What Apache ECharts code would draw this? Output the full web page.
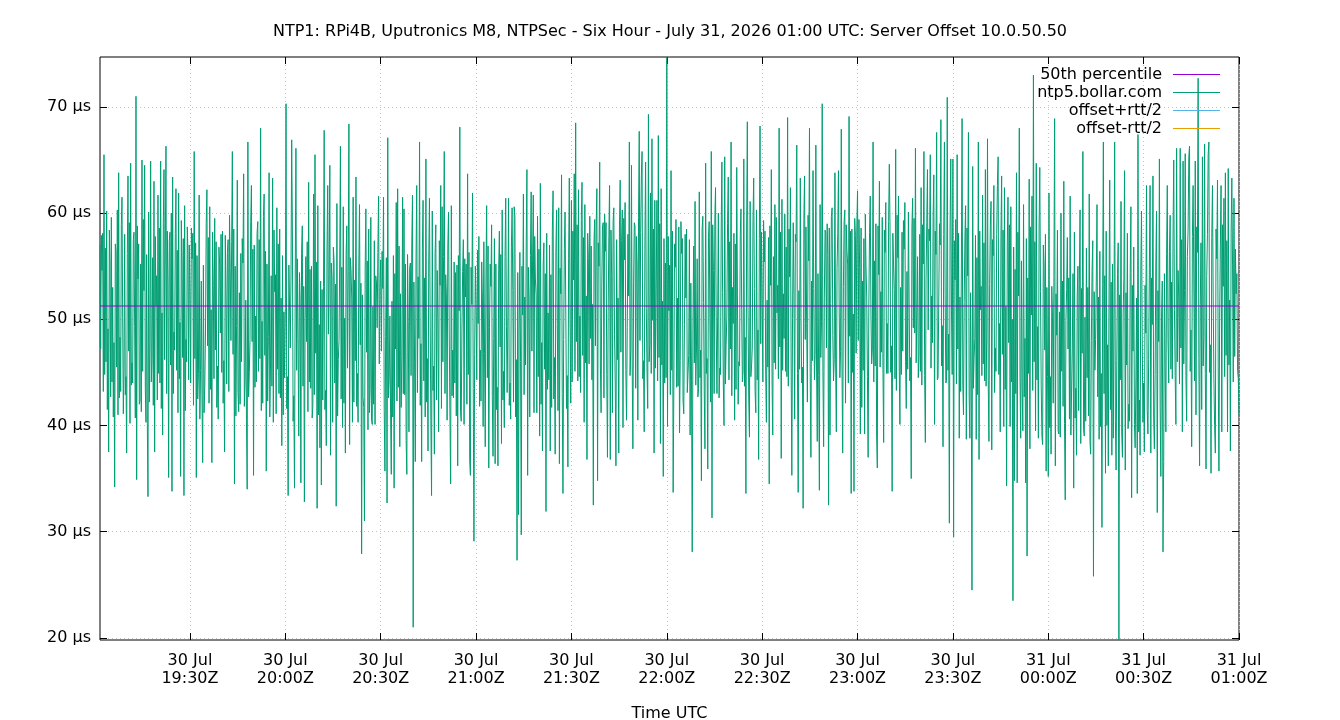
<!DOCTYPE html>
<html>
<head>
<meta charset="utf-8">
<title>NTP1 Server Offset</title>
<script src="https://cdn.jsdelivr.net/npm/echarts@6/dist/echarts.min.js"></script>
<style>
  html, body { margin: 0; padding: 0; background: #fff; }
  #chart { width: 1340px; height: 720px; }
</style>
</head>
<body>
<div id="chart"></div>
<script>
// ---- axis setup (x in minutes after 30 Jul 19:00Z) ----
const firstSampleMin = 1.7          // log starts a little after 19:00
const lastSampleMin = 360           // 31 Jul 01:00Z
const xTicks = [30, 60, 90, 120, 150, 180, 210, 240, 270, 300, 330, 360]
const xTickLabels = ['30 Jul\n19:30Z', '30 Jul\n20:00Z', '30 Jul\n20:30Z', '30 Jul\n21:00Z',
  '30 Jul\n21:30Z', '30 Jul\n22:00Z', '30 Jul\n22:30Z', '30 Jul\n23:00Z', '30 Jul\n23:30Z',
  '31 Jul\n00:00Z', '31 Jul\n00:30Z', '31 Jul\n01:00Z']
const yTicks = [20, 30, 40, 50, 60, 70]
const yMin = 19.8
const yMax = 74.7
const median50 = 51.25

// ---- server offset (µs), one array per half hour, samples evenly spaced ----
const off1900 = [57.0, 47.2, 57.9, 54.6, 58.1, 43.2, 65.5, 44.8, 56.7, 46.0, 60.2, 41.5, 49.1, 37.5, 58.4, 55.3, 42.7, 59.6,
  44.1, 53.0, 40.8, 47.8, 34.2, 57.1, 56.4, 45.5, 60.3, 41.0, 63.8, 42.6, 48.3, 43.2, 58.9, 61.5, 50.2, 41.1,
  45.3, 58.0, 42.9, 44.6, 37.4, 56.2, 63.5, 47.0, 59.1, 40.2, 64.7, 43.8, 45.9, 44.0, 57.5, 58.2, 49.3, 40.7,
  71.0, 34.9, 58.8, 53.8, 57.1, 42.0, 42.3, 55.2, 41.3, 65.0, 45.1, 59.4, 52.7, 64.5, 43.5, 40.3, 56.1, 40.2,
  33.3, 60.1, 42.2, 47.4, 64.9, 44.1, 46.2, 55.8, 41.9, 63.0, 37.5, 57.8, 51.3, 54.1, 42.4, 61.7, 44.9, 58.6,
  44.0, 64.9, 41.6, 50.6, 39.1, 59.0, 64.1, 46.2, 56.9, 66.3, 43.0, 58.3, 53.4, 35.1, 57.4, 58.2, 45.7, 60.0,
  33.8, 63.4, 43.0, 48.8, 47.1, 58.1, 62.3, 45.2, 56.5, 41.2, 61.9, 44.4, 49.7, 35.2, 59.3, 55.0, 46.4, 57.6,
  33.4, 60.7, 41.4, 48.1, 46.0, 58.7, 56.1, 44.3, 57.0]
const off1930 = [52.3, 44.0, 58.6, 55.7, 58.1, 41.9, 65.8, 46.3, 57.2, 35.1, 56.0, 42.5, 44.9, 61.7, 40.6, 45.2, 53.6, 42.8,
  36.5, 55.1, 41.2, 43.8, 49.0, 59.0, 62.2, 47.5, 57.7, 42.1, 60.6, 43.4, 50.9, 36.5, 58.2, 53.2, 44.4, 59.5,
  47.1, 57.3, 41.7, 45.6, 40.6, 56.8, 55.2, 48.7, 58.0, 45.0, 58.3, 42.1, 46.1, 37.5, 57.9, 52.1, 43.9, 56.3,
  57.5, 43.2, 59.8, 54.8, 48.0, 57.3, 65.8, 46.7, 58.5, 34.5, 55.0, 40.9, 49.4, 63.1, 43.1, 41.3, 52.5, 42.0,
  56.2, 46.0, 57.6, 55.3, 63.7, 41.8, 44.2, 51.8, 40.5, 34.0, 66.7, 42.7, 45.0, 48.1, 59.2, 62.6, 47.9, 56.6,
  35.3, 57.0, 43.6, 50.3, 44.1, 58.1, 59.2, 45.1, 57.5, 46.3, 68.0, 41.4, 49.8, 42.1, 59.7, 61.8, 46.6, 56.4,
  35.7, 55.2, 42.3, 48.4, 63.8, 40.8, 45.3, 54.1, 43.7, 63.3, 40.3, 58.4, 52.6, 54.2, 41.1, 60.5, 45.3, 57.1,
  43.0, 58.5, 42.6, 52.0, 38.1, 56.0, 41.0, 50.7, 44.5]
const off2000 = [51.0, 70.3, 41.6, 44.6, 33.4, 55.1, 55.2, 47.3, 54.0, 66.9, 58.5, 40.4, 42.8, 34.1, 53.8, 66.1, 45.2, 55.7,
  48.2, 39.0, 54.4, 51.6, 34.6, 56.2, 58.8, 43.7, 53.1, 32.8, 50.1, 55.9, 47.9, 57.3, 41.3, 62.9, 44.1, 54.7,
  43.5, 55.0, 40.7, 41.9, 61.8, 42.9, 65.5, 46.8, 55.4, 32.2, 60.7, 41.0, 49.5, 37.9, 53.6, 34.4, 52.8, 42.4,
  53.1, 67.8, 41.5, 43.3, 38.1, 56.5, 62.6, 48.6, 54.2, 64.5, 37.2, 55.3, 53.9, 40.3, 56.8, 55.4, 44.0, 53.3,
  32.4, 60.9, 40.9, 46.2, 48.0, 55.6, 66.3, 42.5, 54.9, 39.8, 60.6, 42.1, 50.1, 37.4, 56.0, 58.8, 45.4, 54.5,
  68.4, 38.2, 55.8, 54.7, 52.0, 40.3, 61.5, 42.2, 53.7, 46.1, 63.4, 41.8, 44.9, 40.3, 55.0, 60.8, 47.6, 53.4,
  27.9, 52.3, 42.7, 41.7, 31.0, 54.6, 60.4, 46.9, 55.5, 39.6, 58.5, 41.2, 43.4, 59.6, 40.6, 40.1, 51.2, 42.0,
  57.4, 40.1, 54.1, 53.5, 49.2, 56.3, 61.6, 45.8, 53.0]
const off2030 = [55.6, 47.0, 56.4, 52.9, 61.5, 41.4, 35.7, 48.4, 55.8, 32.7, 67.1, 42.6, 44.3, 50.3, 41.1, 35.4, 51.7, 40.8,
  56.0, 34.1, 54.3, 47.2, 61.0, 42.3, 62.3, 43.6, 56.9, 38.0, 52.4, 41.7, 46.5, 61.5, 43.0, 60.4, 42.9, 55.2,
  38.6, 35.4, 56.1, 49.8, 39.4, 54.8, 55.3, 44.7, 57.0, 61.7, 21.0, 53.5, 45.9, 36.6, 55.6, 62.6, 43.1, 54.0,
  48.2, 66.7, 41.9, 47.7, 36.6, 56.6, 61.2, 44.2, 53.9, 40.8, 65.1, 42.2, 46.3, 37.6, 55.3, 61.4, 50.5, 40.5,
  33.4, 60.2, 43.3, 45.6, 37.3, 56.2, 58.9, 42.4, 54.6, 50.1, 39.4, 57.4, 53.2, 62.6, 41.6, 60.6, 46.0, 55.9,
  65.8, 43.0, 54.2, 52.3, 40.5, 56.7, 60.1, 48.9, 41.0, 34.5, 60.7, 42.8, 47.1, 42.6, 55.4, 44.0, 54.4, 40.9,
  55.1, 36.2, 56.0, 50.8, 68.1, 41.3, 40.4, 49.0, 54.5, 57.5, 40.1, 55.7, 52.1, 55.2, 42.0, 63.7, 44.8, 56.3,
  36.6, 35.3, 54.9, 51.4, 61.9, 43.5, 29.1, 46.7, 55.0]
const off2100 = [51.2, 44.3, 56.5, 49.6, 57.8, 41.8, 47.1, 42.3, 55.4, 52.0, 39.9, 57.3, 46.8, 38.0, 54.1, 60.7, 44.5, 56.9,
  36.0, 49.2, 55.2, 53.1, 58.9, 42.7, 37.1, 48.2, 57.6, 36.4, 55.2, 41.5, 43.6, 36.2, 54.7, 58.3, 47.4, 56.1,
  38.3, 60.3, 42.4, 45.1, 39.8, 55.9, 61.4, 49.3, 43.1, 50.2, 61.4, 41.9, 44.0, 40.6, 56.8, 60.5, 52.7, 42.2,
  60.6, 59.6, 40.8, 46.2, 27.3, 54.4, 31.6, 48.9, 56.3, 46.0, 29.7, 55.0, 50.4, 61.8, 42.9, 52.1, 45.7, 57.1,
  64.1, 35.3, 54.9, 51.9, 40.8, 56.0, 62.0, 47.0, 55.5, 61.7, 41.2, 57.8, 53.8, 52.3, 41.2, 59.7, 44.6, 56.6,
  39.0, 62.8, 42.0, 47.8, 37.6, 55.1, 57.2, 45.3, 54.3, 31.9, 58.1, 43.4, 50.6, 44.3, 57.0, 37.6, 54.2, 41.7,
  58.5, 62.1, 42.5, 46.4, 37.3, 56.4, 60.3, 49.5, 41.4, 60.5, 36.4, 54.8, 52.4, 63.6, 43.0, 33.6, 48.1, 56.7,
  60.1, 60.2, 41.6, 44.7, 36.1, 55.7, 63.3, 50.0, 42.1]
const off2130 = [61.2, 44.1, 58.3, 53.7, 63.7, 45.1, 68.5, 47.9, 58.9, 44.2, 62.2, 44.6, 50.3, 43.1, 59.4, 62.9, 46.6, 57.7,
  40.3, 60.8, 45.9, 52.2, 36.8, 58.1, 55.7, 45.8, 59.7, 48.2, 56.9, 44.3, 51.4, 32.5, 57.5, 59.4, 47.5, 58.6,
  62.3, 34.8, 57.2, 55.0, 64.8, 45.6, 41.2, 53.3, 58.8, 59.1, 42.6, 59.9, 56.4, 59.1, 44.8, 37.0, 50.7, 57.9,
  62.6, 36.8, 58.4, 54.1, 41.2, 59.2, 60.5, 48.6, 44.0, 36.2, 57.5, 46.2, 52.0, 37.4, 58.7, 63.1, 46.9, 57.4,
  60.3, 39.8, 59.5, 55.6, 61.0, 45.3, 40.5, 49.2, 58.0, 52.2, 66.7, 44.7, 47.3, 64.5, 45.8, 37.8, 53.5, 59.1,
  58.8, 43.5, 57.8, 55.1, 40.5, 59.6, 67.7, 48.0, 58.2, 63.5, 65.8, 44.4, 46.1, 39.4, 57.3, 64.8, 51.0, 45.0,
  41.6, 69.3, 46.0, 47.6, 61.9, 44.9, 67.0, 49.9, 58.5, 37.4, 61.2, 45.4, 52.8, 61.2, 44.2, 67.3, 46.4, 59.0,
  38.3, 62.3, 45.7, 51.7, 35.2, 57.6, 44.0, 55.3, 44.5]
const off2200 = [74.7, 39.9, 57.8, 50.8, 55.1, 42.9, 64.0, 45.2, 58.3, 33.7, 44.0, 57.1, 54.9, 59.4, 43.6, 52.0, 43.7, 58.7,
  39.3, 46.1, 59.2, 56.2, 57.6, 42.4, 41.1, 49.5, 58.0, 52.0, 58.5, 43.1, 44.8, 46.6, 57.5, 39.1, 53.4, 44.2,
  28.1, 49.1, 56.9, 45.9, 61.1, 43.8, 47.2, 55.7, 42.7, 43.5, 62.0, 44.5, 47.1, 34.8, 58.5, 59.7, 51.6, 43.3,
  37.8, 64.7, 44.9, 46.3, 35.9, 57.7, 59.2, 50.2, 42.2, 65.8, 31.3, 58.9, 54.6, 43.0, 59.5, 62.4, 48.8, 43.0,
  50.3, 60.0, 42.6, 45.4, 44.8, 58.4, 64.8, 52.5, 44.0, 40.0, 65.3, 43.9, 47.6, 50.4, 59.0, 63.4, 44.3, 57.3,
  47.2, 66.7, 42.8, 53.0, 49.6, 58.1, 40.5, 57.1, 43.4, 64.3, 52.3, 42.0, 46.0, 45.6, 57.9, 60.4, 50.9, 44.1,
  45.1, 65.1, 43.7, 48.3, 33.6, 58.6, 68.6, 51.1, 42.5, 38.9, 61.1, 44.6, 45.6, 47.3, 59.3, 63.3, 52.9, 43.2,
  41.2, 60.3, 44.3, 49.0, 36.8, 57.6, 68.2, 47.7, 58.2]
const off2230 = [52.3, 44.1, 59.3, 55.4, 58.3, 44.8, 40.3, 51.8, 45.5, 57.7, 34.5, 58.8, 53.2, 64.1, 44.1, 39.1, 55.9, 45.9,
  60.8, 45.3, 59.6, 50.6, 53.2, 44.4, 68.0, 47.4, 58.2, 36.9, 61.3, 45.2, 52.4, 48.2, 59.9, 45.1, 56.8, 44.6,
  69.0, 43.7, 58.5, 54.0, 62.4, 45.7, 35.3, 50.1, 59.1, 52.2, 40.6, 58.0, 57.3, 66.4, 44.9, 33.7, 52.7, 45.3,
  63.3, 50.1, 44.0, 45.5, 32.2, 59.4, 63.5, 48.1, 58.7, 49.6, 42.2, 59.8, 55.5, 68.0, 45.0, 37.0, 53.6, 46.1,
  64.0, 52.9, 44.3, 46.7, 66.4, 45.6, 38.5, 54.3, 44.7, 33.9, 60.8, 46.4, 49.8, 70.3, 45.1, 38.0, 52.0, 58.4,
  58.1, 47.3, 59.0, 56.0, 32.5, 58.6, 39.1, 51.5, 59.7, 60.5, 48.5, 44.2, 46.2, 63.8, 45.8, 39.4, 54.8, 58.1,
  64.0, 51.2, 44.5, 47.0, 67.9, 45.4, 37.4, 53.1, 59.2, 60.3, 42.1, 58.9, 56.5, 55.2, 44.0, 69.1, 48.4, 58.3,
  33.6, 58.5, 45.0, 50.5, 33.8, 59.5, 57.9, 46.8, 58.8]
const off2300 = [62.1, 48.0, 59.4, 54.9, 39.2, 58.6, 41.7, 53.6, 45.2, 57.6, 39.2, 59.9, 55.0, 52.1, 44.6, 37.0, 51.3, 58.2,
  61.6, 50.4, 45.8, 47.1, 66.7, 44.1, 55.5, 45.6, 59.0, 39.1, 36.0, 58.8, 54.2, 63.0, 45.5, 52.6, 46.9, 59.6,
  45.3, 38.4, 58.4, 56.3, 61.0, 44.9, 49.6, 44.9, 59.2, 64.6, 58.7, 45.0, 47.5, 33.8, 58.1, 55.1, 52.8, 44.4,
  66.0, 43.3, 59.8, 55.8, 61.6, 45.7, 40.1, 53.0, 44.8, 58.2, 47.0, 59.3, 56.6, 61.0, 46.0, 41.6, 54.5, 45.3,
  60.1, 52.2, 44.2, 46.4, 35.0, 58.7, 61.4, 49.2, 59.5, 48.7, 66.1, 45.9, 50.6, 55.9, 44.5, 46.6, 58.0, 45.1,
  62.4, 43.8, 58.9, 55.2, 65.8, 44.7, 38.4, 53.8, 59.1, 64.1, 49.0, 58.5, 57.4, 65.5, 45.4, 52.2, 47.8, 59.7,
  63.6, 40.1, 58.3, 56.1, 67.6, 44.3, 44.5, 51.9, 59.0, 57.0, 68.8, 45.6, 49.4, 38.0, 58.0, 66.7, 52.3, 44.0,
  44.2, 70.9, 45.2, 48.6, 30.8, 58.6, 65.1, 50.8, 44.8]
const off2330 = [65.1, 29.5, 57.4, 53.7, 59.4, 43.9, 65.5, 47.2, 58.1, 38.8, 52.1, 43.2, 55.4, 68.9, 44.0, 41.0, 51.6, 57.7,
  60.7, 38.7, 58.6, 54.1, 67.6, 42.8, 38.8, 52.5, 44.4, 24.5, 64.4, 43.5, 46.3, 48.2, 57.9, 38.7, 55.8, 42.9,
  66.7, 36.8, 58.3, 50.9, 53.1, 44.7, 61.7, 45.8, 57.2, 44.2, 64.1, 43.7, 48.7, 67.0, 44.2, 38.5, 53.3, 58.8,
  61.1, 37.7, 57.5, 56.0, 62.6, 43.1, 47.3, 45.1, 58.0, 62.6, 65.3, 44.8, 49.6, 39.4, 57.8, 63.5, 46.7, 58.4,
  39.9, 62.4, 43.4, 51.2, 34.3, 57.1, 61.5, 47.8, 58.9, 39.9, 60.6, 44.1, 50.0, 23.5, 56.8, 34.8, 54.7, 43.0,
  63.8, 34.6, 58.2, 52.2, 68.0, 44.5, 38.8, 55.5, 43.6, 39.5, 60.8, 42.7, 48.2, 34.6, 57.6, 27.7, 53.9, 44.9,
  63.2, 37.8, 58.7, 50.4, 61.6, 43.3, 73.0, 46.0, 57.3, 39.5, 64.7, 44.3, 49.3, 38.8, 58.5, 64.3, 52.6, 43.8,
  39.0, 38.2, 57.0, 55.1, 47.1, 58.0, 35.7, 53.0, 44.6]
const off0000 = [35.2, 61.9, 39.8, 44.6, 37.3, 53.1, 50.2, 42.1, 54.0, 68.9, 36.2, 52.4, 48.5, 58.4, 39.5, 39.2, 50.7, 38.9,
  60.0, 45.1, 53.6, 41.8, 63.0, 40.2, 33.0, 49.9, 52.8, 57.7, 47.2, 53.9, 40.6, 61.6, 39.1, 39.2, 47.3, 54.3,
  34.1, 58.2, 40.7, 43.5, 37.2, 52.2, 55.0, 41.4, 53.4, 60.3, 38.3, 52.9, 46.8, 65.8, 39.6, 39.0, 50.2, 40.4,
  56.7, 44.5, 53.0, 40.9, 61.8, 38.6, 37.3, 48.0, 54.5, 57.4, 25.8, 52.6, 45.2, 48.1, 53.7, 60.8, 42.7, 52.1,
  38.7, 56.4, 39.9, 44.9, 30.4, 53.3, 66.7, 43.0, 54.1, 35.5, 58.3, 40.0, 47.6, 36.2, 52.7, 63.1, 41.5, 53.5,
  37.2, 55.2, 38.8, 49.4, 66.7, 40.5, 35.8, 46.1, 54.2, 57.2, 19.8, 52.3, 44.3, 61.1, 39.3, 37.0, 50.5, 53.8,
  64.0, 35.8, 52.5, 45.7, 58.1, 39.7, 42.0, 40.4, 54.4, 60.6, 33.2, 53.2, 47.0, 56.8, 40.1, 37.9, 44.0, 52.0,
  33.6, 67.4, 39.4, 42.4, 37.2, 54.6, 60.2, 48.3, 40.3]
const off0030 = [44.0, 37.5, 53.2, 48.7, 62.6, 41.4, 39.2, 46.2, 54.8, 62.6, 37.4, 53.9, 49.5, 63.5, 40.6, 37.8, 44.8, 55.1,
  60.2, 31.8, 52.7, 47.9, 65.1, 41.8, 35.2, 50.3, 53.6, 28.1, 36.6, 54.3, 45.5, 39.4, 56.2, 62.6, 48.1, 44.0,
  56.4, 59.8, 45.3, 53.5, 44.4, 58.1, 65.0, 50.9, 44.7, 40.1, 66.1, 46.0, 54.6, 52.0, 43.9, 66.1, 47.3, 57.5,
  39.4, 64.9, 45.8, 52.7, 65.6, 44.5, 40.4, 55.9, 58.4, 65.3, 66.3, 45.1, 49.0, 38.0, 57.8, 62.6, 53.8, 44.2,
  64.9, 41.0, 58.7, 56.3, 72.7, 46.3, 36.2, 51.4, 57.2, 41.5, 65.3, 45.6, 48.4, 66.5, 44.9, 35.9, 54.0, 58.0,
  65.5, 66.7, 45.0, 47.6, 35.5, 57.7, 62.6, 52.2, 44.4, 40.0, 37.4, 58.5, 55.7, 63.1, 45.5, 35.7, 50.1, 57.0,
  62.6, 39.4, 58.9, 53.1, 61.4, 44.6, 63.8, 46.6, 57.4, 39.4, 64.2, 45.7, 51.8, 37.6, 58.2, 63.3, 55.2, 44.1,
  61.4, 46.5, 56.6, 52.4, 54.3, 45.2, 44.4, 41.0]

const halfHours = [off1900, off1930, off2000, off2030, off2100, off2130,
  off2200, off2230, off2300, off2330, off0000, off0030]

// x position of every sample; first block starts at the first log entry,
// last block ends exactly on the 01:00 sample
const offsetPoints = []
halfHours.forEach((block, k) => {
  const first = k === 0
  const last = k === halfHours.length - 1
  const t0 = first ? firstSampleMin : k * 30
  const span = (k + 1) * 30 - t0
  const step = span / (last ? block.length - 1 : block.length)
  block.forEach((v, i) => offsetPoints.push([t0 + i * step, v]))
})

const titleText = 'NTP1: RPi4B, Uputronics M8, NTPSec - Six Hour - July 31, 2026 01:00 UTC: Server Offset 10.0.50.50'
const font = 'DejaVu Sans'

const chart = echarts.init(document.getElementById('chart'))
const gridDots = { color: '#c4c4c4', width: 1, type: [1, 3] }
const tickStyle = { color: '#000', width: 1 }

chart.setOption({
  animation: false,
  textStyle: { fontFamily: font },
  title: {
    text: titleText,
    left: 'center',
    top: 19,
    textStyle: { fontFamily: font, fontSize: 16, fontWeight: 'normal', color: '#000' }
  },
  legend: {
    orient: 'vertical',
    right: 120,
    top: 65.5,
    align: 'right',
    padding: 0,
    itemGap: 0,
    itemWidth: 47,
    itemHeight: 1,
    icon: 'rect',
    selectedMode: false,
    textStyle: { fontFamily: font, fontSize: 16, lineHeight: 18, color: '#000', padding: [0, 6, 0, 0] },
    data: ['50th percentile', 'ntp5.bollar.com', 'offset+rtt/2', 'offset-rtt/2']
  },
  grid: {
    left: 100, top: 57, width: 1139, height: 583,
    outerBoundsMode: 'none',
    show: true, borderColor: '#000', borderWidth: 1
  },
  xAxis: [
    {
      type: 'value', min: firstSampleMin, max: lastSampleMin,
      name: 'Time UTC', nameLocation: 'middle', nameGap: 66,
      nameTextStyle: { fontFamily: font, fontSize: 16, color: '#000' },
      axisLine: { show: false },
      axisTick: { inside: true, length: 7, lineStyle: tickStyle, customValues: xTicks },
      axisLabel: {
        margin: 12, fontSize: 16, lineHeight: 18, color: '#000', fontFamily: font,
        customValues: xTicks,
        formatter: v => xTickLabels[xTicks.indexOf(v)] || ''
      },
      splitLine: { show: true, lineStyle: gridDots }
    },
    {
      type: 'value', position: 'top', min: firstSampleMin, max: lastSampleMin,
      axisLine: { show: false },
      axisTick: { inside: true, length: 7, lineStyle: tickStyle, customValues: xTicks },
      axisLabel: { show: false, customValues: xTicks },
      splitLine: { show: false }
    }
  ],
  yAxis: [
    {
      type: 'value', min: yMin, max: yMax,
      axisLine: { show: false },
      axisTick: { inside: true, length: 7, lineStyle: tickStyle, customValues: yTicks },
      axisLabel: {
        margin: 9, fontSize: 16, color: '#000', fontFamily: font,
        customValues: yTicks,
        formatter: v => (yTicks.includes(v) ? v + ' µs' : '')
      },
      splitLine: { show: true, lineStyle: gridDots }
    },
    {
      type: 'value', position: 'right', min: yMin, max: yMax,
      axisLine: { show: false },
      axisTick: { inside: true, length: 7, lineStyle: tickStyle, customValues: yTicks },
      axisLabel: { show: false, customValues: yTicks },
      splitLine: { show: false }
    }
  ],
  series: [
    {
      name: 'ntp5.bollar.com',
      type: 'line',
      data: offsetPoints,
      symbol: 'none',
      color: '#009e73',
      lineStyle: { width: 1, color: '#009e73' },
      z: 2
    },
    {
      name: '50th percentile',
      type: 'line',
      data: [[firstSampleMin, median50], [lastSampleMin, median50]],
      symbol: 'none',
      color: '#9400d3',
      lineStyle: { width: 1, color: '#9400d3', opacity: 1 },
      z: 10
    },
    { name: 'offset+rtt/2', type: 'line', data: [], symbol: 'none', color: '#56b4e9', lineStyle: { width: 1 } },
    { name: 'offset-rtt/2', type: 'line', data: [], symbol: 'none', color: '#e69f00', lineStyle: { width: 1 } }
  ]
})
</script>
</body>
</html>
